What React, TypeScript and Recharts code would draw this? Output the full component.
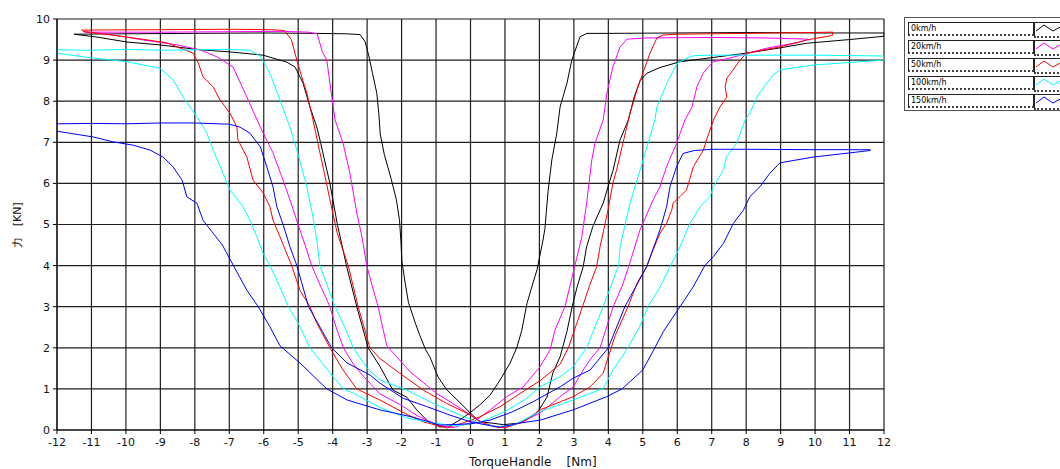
import { CartesianGrid, Line, LineChart, XAxis, YAxis } from "recharts";

type Pt = [number, number];

// each series is one hysteresis loop, points in drawing order
const loop0kmh: Pt[] = [
  [-11.5, 9.63], [-10, 9.64], [-8, 9.65], [-6, 9.66], [-4.5, 9.65], [-3.6, 9.64], [-3.2, 9.62],
  [-3.06, 9.45], [-2.95, 9.1], [-2.85, 8.7], [-2.72, 8.2], [-2.66, 7.7], [-2.62, 7.2], [-2.5, 6.7],
  [-2.3, 6.1], [-2.15, 5.6], [-2.06, 5.1], [-2.02, 4.6], [-1.99, 4.1], [-1.9, 3.6], [-1.8, 3.1],
  [-1.6, 2.6], [-1.47, 2.3], [-1.3, 1.95], [-1.18, 1.78], [-0.94, 1.29], [-0.68, 0.97], [-0.3, 0.66],
  [0.0, 0.41], [0.27, 0.2], [0.6, 0.17], [0.95, 0.13],
  [1.44, 0.17], [1.93, 0.41], [2.22, 0.8], [2.39, 1.39], [2.6, 1.78], [2.8, 2.4], [2.95, 3.0],
  [3.1, 3.5], [3.27, 3.97], [3.37, 4.46], [3.55, 4.95], [3.85, 5.52], [4.14, 6.33], [4.34, 7.06],
  [4.58, 7.54], [4.75, 8.1], [4.92, 8.5], [5.12, 8.68], [5.5, 8.82], [6.08, 8.96], [7.0, 9.06],
  [8.02, 9.17], [9.0, 9.3], [9.76, 9.41], [11, 9.5], [12, 9.58],
  [12, 9.66], [10, 9.66], [8, 9.67], [6, 9.66], [4, 9.65], [3.38, 9.65],
  [3.18, 9.57], [2.94, 9.0], [2.8, 8.44], [2.6, 7.86], [2.5, 7.2], [2.36, 6.57], [2.25, 5.8],
  [2.16, 4.9], [2.1, 4.6], [1.93, 3.9], [1.75, 3.4], [1.64, 3.08], [1.49, 2.43], [1.35, 2.02],
  [1.15, 1.63], [0.86, 1.22], [0.57, 0.85], [0.27, 0.61], [0, 0.43], [-0.3, 0.25], [-0.6, 0.1],
  [-0.89, 0.07],
  [-1.27, 0.24], [-1.56, 0.49], [-1.85, 0.8], [-2.25, 0.97], [-2.63, 1.55], [-2.97, 2.0],
  [-3.3, 3.0], [-3.6, 4.0], [-3.87, 5.03], [-4.08, 6.0], [-4.37, 7.06], [-4.46, 7.37],
  [-4.66, 7.86], [-4.86, 8.44], [-5.09, 8.83], [-5.33, 8.95], [-6.02, 9.12], [-6.98, 9.2],
  [-7.85, 9.25], [-9.01, 9.37], [-9.97, 9.44], [-10.84, 9.56], [-11.5, 9.63],
];

const loop20kmh: Pt[] = [
  [-11.2, 9.68], [-9, 9.68], [-7, 9.69], [-5.5, 9.7], [-4.7, 9.68], [-4.45, 9.64],
  [-4.3, 9.2], [-4.17, 9.0], [-4.08, 8.44], [-3.93, 7.54], [-3.7, 6.98], [-3.5, 6.25],
  [-3.3, 5.28], [-3.15, 4.7], [-3.01, 4.0], [-2.85, 3.5], [-2.68, 3.0], [-2.55, 2.5],
  [-2.43, 2.05], [-1.76, 1.42], [-0.98, 0.89], [-0.3, 0.53], [0.08, 0.32], [0.4, 0.15],
  [0.8, 0.07], [1.0, 0.06],
  [1.5, 0.2], [2.02, 0.41], [2.6, 0.81], [2.98, 1.05], [3.3, 1.5], [3.55, 1.8], [3.76, 2.0],
  [3.95, 2.5], [4.14, 3.0], [4.4, 3.5], [4.6, 4.0], [4.92, 4.87], [5.3, 5.6], [5.5, 5.92],
  [5.69, 6.41], [5.98, 6.97], [6.22, 7.54], [6.43, 7.86], [6.57, 8.35], [6.75, 8.68],
  [7.04, 8.96], [7.53, 9.05], [8.6, 9.29], [9.56, 9.44], [9.8, 9.5],
  [9.76, 9.51], [8.5, 9.54], [7, 9.55], [5.12, 9.54], [4.54, 9.51],
  [4.34, 9.32], [4.13, 8.83], [3.96, 8.2], [3.85, 7.54], [3.61, 6.97], [3.52, 6.57],
  [3.37, 5.52], [3.23, 4.7], [3.03, 4.0], [2.74, 3.0], [2.45, 2.43], [2.31, 1.95], [2.02, 1.54],
  [1.53, 1.05], [1.05, 0.81], [0.57, 0.49], [0.1, 0.2], [-0.5, 0.06],
  [-0.97, 0.12], [-1.55, 0.35], [-2.05, 0.62], [-2.63, 0.88], [-3.1, 1.3], [-3.4, 1.6],
  [-3.69, 2.0], [-3.9, 2.5], [-4.08, 3.0], [-4.35, 3.5], [-4.61, 4.0], [-4.8, 4.5],
  [-4.98, 4.94], [-5.24, 5.6], [-5.44, 6.08], [-5.73, 6.74], [-6.1, 7.37], [-6.49, 8.1],
  [-6.89, 8.83], [-7.36, 9.08], [-7.85, 9.25], [-8.52, 9.37], [-9.5, 9.49], [-10.66, 9.65],
  [-11.2, 9.68],
];

const loop50kmh: Pt[] = [
  [-11.3, 9.73], [-9, 9.74], [-7, 9.75], [-5.8, 9.74], [-5.4, 9.72],
  [-5.2, 9.5], [-5.04, 9.0], [-4.9, 8.6], [-4.75, 8.2], [-4.57, 7.54], [-4.43, 6.98],
  [-4.28, 6.4], [-4.08, 5.6], [-3.87, 4.8], [-3.55, 4.0], [-3.26, 3.0], [-2.92, 2.0],
  [-2.63, 1.74], [-2.05, 1.38], [-1.37, 0.97], [-0.7, 0.65], [-0.11, 0.41], [0.3, 0.2],
  [0.7, 0.08], [1.0, 0.05],
  [1.53, 0.2], [2.02, 0.49], [2.98, 0.81], [3.47, 1.05], [3.85, 1.38], [4.0, 1.78], [4.2, 2.3],
  [4.57, 3.0], [4.85, 3.6], [5.11, 3.97], [5.26, 4.3], [5.5, 4.79], [5.69, 5.03], [5.84, 5.35],
  [5.88, 5.52], [6.08, 5.68], [6.27, 5.84], [6.47, 6.41], [6.76, 6.81], [6.85, 7.06],
  [7.05, 7.54], [7.24, 7.86], [7.44, 8.1], [7.39, 8.35], [7.44, 8.56], [7.62, 8.76],
  [7.82, 9.0], [8.02, 9.17], [8.98, 9.32], [9.76, 9.49], [10.5, 9.6],
  [10.52, 9.68], [9, 9.66], [7, 9.64], [6, 9.63], [5.59, 9.61], [5.41, 9.54],
  [5.21, 9.17], [5.0, 8.68], [4.83, 8.27], [4.63, 7.71], [4.43, 7.0], [4.24, 6.33],
  [4.13, 6.0], [3.99, 5.35], [3.76, 4.46], [3.66, 3.97], [3.45, 3.5], [3.25, 3.0],
  [2.84, 2.0], [2.6, 1.6], [2.02, 1.2], [1.44, 0.89], [0.86, 0.57], [0.27, 0.32],
  [-0.3, 0.15], [-0.68, 0.05],
  [-1.38, 0.2], [-1.9, 0.4], [-2.63, 0.73], [-3.3, 1.0], [-3.7, 1.46], [-4.08, 2.0],
  [-4.46, 2.6], [-4.66, 3.0], [-4.95, 3.4], [-5.19, 4.0], [-5.53, 4.7], [-5.73, 5.1],
  [-5.82, 5.43], [-6.02, 5.77], [-6.31, 6.08], [-6.49, 6.64], [-6.75, 7.06], [-6.78, 7.37],
  [-6.98, 7.71], [-7.27, 8.03], [-7.47, 8.35], [-7.76, 8.59], [-7.9, 8.93], [-8.05, 9.17],
  [-8.81, 9.42], [-9.79, 9.54], [-11.25, 9.7],
];

const loop100kmh: Pt[] = [
  [-12, 9.25], [-11, 9.24], [-10, 9.26], [-9, 9.24], [-8, 9.25], [-7, 9.26], [-6.4, 9.24],
  [-6.1, 9.1], [-5.82, 8.68], [-5.53, 8.03], [-5.24, 7.37], [-4.98, 6.64], [-4.75, 5.91],
  [-4.57, 5.18], [-4.46, 4.62], [-4.37, 4.0], [-4.15, 3.5], [-3.93, 3.0], [-3.65, 2.5],
  [-3.4, 2.0], [-3.0, 1.5], [-2.63, 1.22], [-1.85, 0.97], [-1.08, 0.65], [-0.3, 0.36],
  [0.3, 0.15], [0.8, 0.08], [1.24, 0.12],
  [2.02, 0.45], [2.98, 0.73], [3.85, 1.01], [4.13, 1.46], [4.57, 2.0], [4.9, 2.5], [5.15, 3.0],
  [5.5, 3.48], [5.79, 3.97], [6.08, 4.46], [6.37, 5.03], [6.66, 5.43], [6.95, 5.68],
  [7.05, 5.92], [7.34, 6.33], [7.43, 6.65], [7.72, 6.97], [7.97, 7.54], [8.11, 7.71],
  [8.31, 8.1], [8.6, 8.44], [8.78, 8.64], [8.98, 8.76], [9.94, 8.88], [12, 9.0],
  [12, 9.1], [10, 9.12], [8, 9.12], [7, 9.12], [6.5, 9.11], [6.37, 9.08],
  [6.0, 8.93], [5.7, 8.44], [5.41, 7.86], [5.35, 7.54], [5.01, 6.57], [4.63, 5.52],
  [4.34, 4.46], [4.3, 4.0], [3.85, 3.0], [3.37, 2.0], [2.98, 1.54], [2.6, 1.3], [2.02, 1.05],
  [1.6, 0.75], [1.0, 0.45], [0.3, 0.2], [-0.39, 0.1],
  [-1.09, 0.17], [-1.84, 0.29], [-2.63, 0.55], [-3.41, 0.9], [-3.69, 1.0], [-4.08, 1.39],
  [-4.66, 2.0], [-5.0, 2.6], [-5.29, 3.0], [-5.53, 3.48], [-5.82, 4.0], [-6.02, 4.3],
  [-6.2, 4.7], [-6.4, 5.1], [-6.6, 5.43], [-6.98, 5.84], [-7.18, 6.25], [-7.47, 6.81],
  [-7.65, 7.22], [-7.94, 7.62], [-8.34, 8.1], [-8.63, 8.52], [-9.01, 8.8], [-9.97, 8.96],
  [-11.25, 9.08], [-12, 9.17],
];

const loop150kmh: Pt[] = [
  [-12, 7.45], [-11, 7.46], [-10, 7.45], [-9, 7.47], [-8, 7.47], [-7, 7.44], [-6.69, 7.37],
  [-6.4, 7.22], [-6.1, 6.89], [-5.91, 6.4], [-5.73, 5.91], [-5.62, 5.43], [-5.44, 5.0],
  [-5.24, 4.46], [-5.04, 4.0], [-4.7, 3.0], [-4.3, 2.4], [-4.03, 2.0], [-3.58, 1.63],
  [-2.92, 1.34], [-2.63, 1.14], [-1.95, 0.77], [-1.27, 0.57], [-0.59, 0.36], [0, 0.2],
  [0.6, 0.1], [0.86, 0.07],
  [1.44, 0.17], [2.02, 0.24], [2.98, 0.49], [3.95, 0.81], [4.4, 1.0], [5.0, 1.46], [5.35, 2.0],
  [5.6, 2.4], [6.08, 3.0], [6.46, 3.48], [6.8, 4.0], [7.05, 4.22], [7.34, 4.54], [7.63, 5.03],
  [7.92, 5.35], [8.11, 5.68], [8.4, 5.92], [8.69, 6.25], [8.98, 6.5], [9.94, 6.64], [11.6, 6.8],
  [11.6, 6.82], [10, 6.82], [8, 6.83], [7, 6.83], [6.5, 6.8], [6.17, 6.73],
  [5.98, 6.41], [5.79, 5.92], [5.69, 5.43], [5.5, 4.87], [5.11, 3.97], [4.48, 3.0], [4.0, 2.0],
  [3.47, 1.46], [2.98, 1.26], [2.6, 1.05], [1.82, 0.69], [1.24, 0.45], [0.57, 0.24], [0, 0.15],
  [-0.89, 0.12],
  [-1.66, 0.31], [-2.63, 0.49], [-3.58, 0.73], [-4.17, 1.0], [-4.95, 1.63], [-5.53, 2.05],
  [-5.82, 2.51], [-6.16, 3.0], [-6.49, 3.4], [-6.88, 4.0], [-7.2, 4.5], [-7.76, 5.1],
  [-7.94, 5.52], [-8.23, 5.67], [-8.37, 6.08], [-8.63, 6.4], [-8.92, 6.64], [-9.3, 6.81],
  [-9.79, 6.93], [-10.37, 7.01], [-10.95, 7.13], [-12, 7.27],
];

const speedLabels = ["0km/h", "20km/h", "50km/h", "100km/h", "150km/h"];
const speedColors = ["#000000", "#ff00ff", "#ff0000", "#00ffff", "#0000ff"];
const loops = [loop0kmh, loop20kmh, loop50kmh, loop100kmh, loop150kmh];

const xTicks = [-12, -11, -10, -9, -8, -7, -6, -5, -4, -3, -2, -1, 0, 1, 2, 3, 4, 5, 6, 7, 8, 9, 10, 11, 12];
const yTicks = [0, 1, 2, 3, 4, 5, 6, 7, 8, 9, 10];

const font = "'DejaVu Sans', Verdana, sans-serif";

function LegendBox() {
  return (
    <div
      style={{
        position: "absolute",
        left: 904,
        top: 17,
        width: 170,
        height: 92,
        border: "1px solid #555",
        background: "#fff",
        fontFamily: font,
        fontSize: 8,
      }}
    >
      {speedLabels.map((label, i) => (
        <div
          key={label}
          style={{ position: "absolute", left: 3, top: 4 + i * 18, height: 13, display: "flex" }}
        >
          <div
            style={{
              width: 122,
              height: 11,
              border: "1px solid #222",
              borderBottom: "2px dotted #444",
              lineHeight: "11px",
              paddingLeft: 2,
              color: "#000",
            }}
          >
            {label}
          </div>
          <svg width={40} height={13} style={{ borderTop: "1px solid #222", borderLeft: "1px solid #222", borderBottom: "2px dotted #444" }}>
            <polyline
              points="1,8 9,2 18,8 27,3"
              fill="none"
              stroke={speedColors[i]}
              strokeWidth={1}
            />
          </svg>
        </div>
      ))}
    </div>
  );
}

export default function App() {
  return (
    <div style={{ position: "absolute", left: 0, top: 0, width: 1060, height: 469, overflow: "hidden", background: "#fff" }}>
      <LineChart width={1060} height={469} margin={{ top: 19, right: 176, left: 0, bottom: 0 }}>
        <CartesianGrid stroke="#1e1e1e" strokeWidth={1.2} />
        <XAxis
          type="number"
          dataKey="x"
          domain={[-12, 12]}
          allowDataOverflow
          ticks={xTicks}
          interval={0}
          height={39}
          tickSize={4}
          tickMargin={4}
          stroke="#000"
          tick={{ fontSize: 11, fill: "#111", fontFamily: font }}
          label={{
            content: () => (
              <text x={469} y={466} fontSize={12} fontFamily={font} fill="#111" style={{ whiteSpace: "pre" }}>
                {"TorqueHandle    [Nm]"}
              </text>
            ),
          }}
        />
        <YAxis
          type="number"
          domain={[0, 10]}
          allowDataOverflow
          ticks={yTicks}
          interval={0}
          width={57}
          tickSize={4}
          tickMargin={3}
          stroke="#000"
          tick={{ fontSize: 11, fill: "#111", fontFamily: font }}
          label={{
            content: () => (
              <text
                x={21}
                y={225}
                fontSize={11}
                fontFamily={font}
                fill="#111"
                textAnchor="middle"
                transform="rotate(-90 21 225)"
                style={{ whiteSpace: "pre" }}
              >
                {"力   [KN]"}
              </text>
            ),
          }}
        />
        {loops.map((loop, i) => (
          <Line
            key={speedLabels[i]}
            name={speedLabels[i]}
            data={loop.map(([x, y]) => ({ x, y }))}
            dataKey="y"
            type="linear"
            stroke={speedColors[i]}
            strokeWidth={1}
            dot={false}
            activeDot={false}
            isAnimationActive={false}
          />
        ))}
      </LineChart>
      <LegendBox />
    </div>
  );
}
